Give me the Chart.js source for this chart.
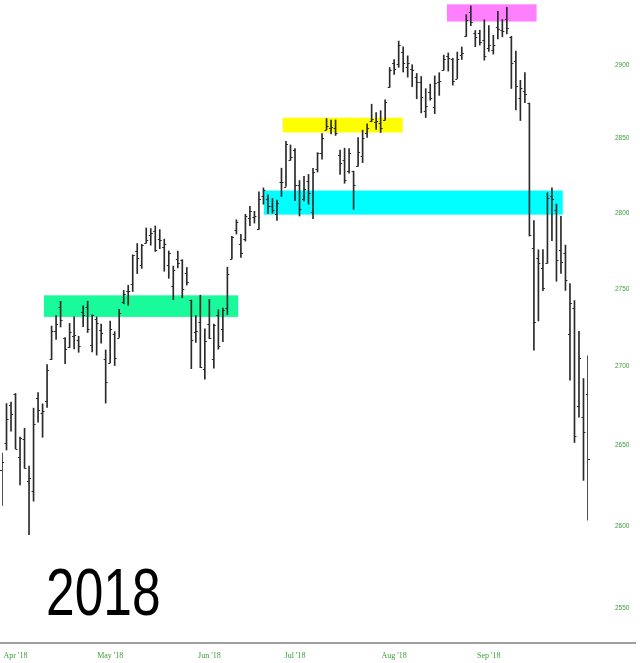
<!DOCTYPE html>
<html>
<head>
<meta charset="utf-8">
<script src="https://cdn.jsdelivr.net/npm/chart.js@4/dist/chart.umd.min.js"></script>
<style>
  html, body { margin: 0; padding: 0; background: #ffffff; }
  #wrap { position: relative; width: 640px; height: 663px; }
  #year {
    position: absolute; left: 46px; top: 559px;
    font-family: "Liberation Sans", Arial, sans-serif; font-size: 66px; line-height: 66px;
    color: #000; transform: scaleX(0.78); transform-origin: 0 0; white-space: nowrap;
  }
</style>
</head>
<body>
<div id="wrap">
  <canvas id="c" width="640" height="663"></canvas>
  <div id="year">2018</div>
</div>
<script>
// ---- data (daily OHLC, 25 Apr 2018 – 29 Oct 2018) ----
const dates = [
 '2018-04-25','2018-04-26','2018-04-27','2018-04-30',
 '2018-05-01','2018-05-02','2018-05-03','2018-05-04','2018-05-07','2018-05-08','2018-05-09','2018-05-10','2018-05-11',
 '2018-05-14','2018-05-15','2018-05-16','2018-05-17','2018-05-18','2018-05-21','2018-05-22','2018-05-23','2018-05-24',
 '2018-05-25','2018-05-29','2018-05-30','2018-05-31',
 '2018-06-01','2018-06-04','2018-06-05','2018-06-06','2018-06-07','2018-06-08','2018-06-11','2018-06-12','2018-06-13',
 '2018-06-14','2018-06-15','2018-06-18','2018-06-19','2018-06-20','2018-06-21','2018-06-22','2018-06-25','2018-06-26',
 '2018-06-27','2018-06-28','2018-06-29',
 '2018-07-02','2018-07-03','2018-07-05','2018-07-06','2018-07-09','2018-07-10','2018-07-11','2018-07-12','2018-07-13',
 '2018-07-16','2018-07-17','2018-07-18','2018-07-19','2018-07-20','2018-07-23','2018-07-24','2018-07-25','2018-07-26',
 '2018-07-27','2018-07-30','2018-07-31',
 '2018-08-01','2018-08-02','2018-08-03','2018-08-06','2018-08-07','2018-08-08','2018-08-09','2018-08-10','2018-08-13',
 '2018-08-14','2018-08-15','2018-08-16','2018-08-17','2018-08-20','2018-08-21','2018-08-22','2018-08-23','2018-08-24',
 '2018-08-27','2018-08-28','2018-08-29','2018-08-30','2018-08-31',
 '2018-09-04','2018-09-05','2018-09-06','2018-09-07','2018-09-10','2018-09-11','2018-09-12','2018-09-13','2018-09-14',
 '2018-09-17','2018-09-18','2018-09-19','2018-09-20','2018-09-21','2018-09-24','2018-09-25','2018-09-26','2018-09-27',
 '2018-09-28',
 '2018-10-01','2018-10-02','2018-10-03','2018-10-04','2018-10-05','2018-10-08','2018-10-09','2018-10-10','2018-10-11',
 '2018-10-12','2018-10-15','2018-10-16','2018-10-17','2018-10-18','2018-10-19','2018-10-22','2018-10-23','2018-10-24',
 '2018-10-25','2018-10-26','2018-10-29'
];
const opens = [
 2634.9,2651.7,2675.5,2682.5,
 2643.0,2654.2,2628.1,2621.5,2680.3,2670.3,2678.1,2705.0,2722.7,
 2738.5,2718.6,2712.6,2719.7,2717.4,2735.4,2738.3,2714.0,2730.9,
 2723.6,2705.1,2702.4,2721.0,
 2718.7,2741.7,2748.5,2753.3,2774.8,2765.8,2780.2,2785.6,2787.9,
 2783.2,2777.8,2765.8,2752.0,2769.7,2769.3,2760.8,2742.9,2722.1,
 2728.5,2698.7,2727.1,
 2705.0,2733.3,2724.2,2737.7,2769.8,2788.6,2779.8,2783.1,2796.9,
 2797.4,2789.3,2811.4,2809.4,2804.6,2799.2,2820.7,2817.7,2835.5,
 2842.4,2819.0,2809.7,
 2821.2,2800.5,2829.6,2840.3,2855.9,2856.8,2857.2,2838.9,2835.5,
 2827.9,2828.0,2831.4,2838.3,2853.9,2861.5,2861.0,2860.3,2862.4,
 2884.7,2901.5,2900.6,2908.9,2898.4,
 2897.0,2891.6,2888.6,2868.3,2881.4,2871.6,2888.3,2896.9,2906.4,
 2903.8,2890.7,2906.6,2919.7,2936.8,2921.8,2921.8,2917.0,2911.7,
 2910.0,
 2926.3,2923.8,2931.7,2919.4,2902.5,2877.5,2882.5,2873.9,2776.9,
 2770.5,2763.8,2767.1,2811.7,2802.0,2775.7,2773.9,2721.0,2737.9,
 2674.9,2667.9,2682.7
];
const highs = [
 2645.3,2676.5,2677.4,2682.9,
 2655.3,2660.9,2637.1,2673.6,2683.4,2676.3,2701.3,2726.1,2732.9,
 2742.1,2718.6,2727.8,2732.0,2719.5,2739.2,2742.2,2733.3,2732.0,
 2727.4,2710.7,2729.3,2722.5,
 2736.9,2749.2,2752.6,2772.4,2779.9,2779.4,2790.2,2789.8,2791.5,
 2789.1,2782.8,2775.0,2765.1,2774.9,2769.3,2764.2,2742.9,2732.9,
 2746.1,2724.3,2743.3,
 2727.3,2736.6,2737.8,2764.4,2784.7,2795.6,2785.9,2799.2,2804.5,
 2801.2,2814.2,2816.8,2812.1,2809.7,2808.6,2830.0,2848.0,2845.6,
 2843.2,2821.7,2824.5,
 2825.8,2829.9,2840.4,2853.3,2863.4,2862.4,2862.5,2842.2,2843.4,
 2843.1,2828.0,2850.5,2855.6,2859.8,2873.2,2867.5,2868.8,2876.2,
 2898.3,2903.8,2916.5,2912.5,2906.3,
 2900.2,2894.2,2892.1,2883.8,2886.9,2892.5,2894.7,2906.8,2908.3,
 2904.7,2908.9,2912.4,2934.8,2940.9,2923.8,2924.0,2931.2,2927.2,
 2920.5,
 2937.1,2931.4,2939.9,2919.8,2909.6,2889.5,2894.8,2874.0,2795.1,
 2775.8,2776.0,2813.5,2816.9,2806.0,2797.8,2778.9,2753.6,2742.6,
 2722.7,2692.4,2706.9
];
const lows = [
 2612.7,2647.2,2659.0,2648.0,
 2625.4,2635.8,2594.6,2615.3,2664.7,2655.2,2674.1,2704.5,2717.5,
 2725.5,2701.9,2712.2,2711.4,2709.2,2725.7,2721.9,2709.5,2707.4,
 2715.0,2676.8,2702.4,2700.7,
 2718.7,2740.5,2739.5,2748.5,2760.2,2763.6,2780.2,2778.8,2774.7,
 2776.5,2761.7,2757.1,2743.2,2763.9,2744.4,2752.7,2698.7,2715.6,
 2699.4,2692.0,2718.0,
 2699.0,2711.2,2716.0,2733.5,2769.8,2786.2,2770.8,2781.5,2791.7,
 2793.4,2789.2,2805.9,2799.8,2800.0,2795.1,2811.1,2817.7,2835.3,
 2808.3,2798.1,2808.1,
 2805.9,2796.3,2827.4,2836.0,2855.9,2853.1,2852.0,2825.8,2819.9,
 2826.6,2802.5,2831.4,2833.7,2850.6,2861.3,2856.1,2854.0,2862.4,
 2884.7,2893.5,2898.4,2895.2,2891.7,
 2885.1,2876.9,2867.3,2864.1,2875.9,2866.8,2879.2,2896.4,2895.8,
 2886.2,2890.7,2903.8,2919.7,2927.1,2912.6,2913.7,2903.3,2909.3,
 2907.5,
 2917.9,2919.4,2921.4,2883.9,2869.3,2862.1,2874.3,2784.9,2710.5,
 2729.4,2749.0,2766.9,2781.8,2755.2,2760.3,2749.2,2691.4,2651.9,
 2667.8,2628.2,2603.5
];
const closes = [
 2639.4,2666.9,2669.9,2648.1,
 2654.8,2635.7,2629.7,2663.4,2672.6,2671.9,2697.8,2723.1,2727.7,
 2730.1,2711.5,2722.5,2720.1,2713.0,2733.0,2724.4,2733.3,2727.8,
 2721.3,2689.9,2724.0,2705.3,
 2734.6,2746.9,2748.8,2772.4,2770.4,2779.0,2782.0,2786.9,2775.6,
 2782.5,2779.7,2773.8,2762.6,2767.3,2749.8,2754.9,2717.1,2723.1,
 2699.6,2716.3,2718.4,
 2726.7,2713.2,2736.6,2759.8,2784.2,2793.8,2774.0,2798.3,2801.3,
 2798.4,2809.6,2815.6,2804.5,2801.8,2807.0,2820.4,2846.1,2837.4,
 2818.8,2802.6,2816.3,
 2813.4,2827.2,2840.4,2850.4,2858.5,2857.7,2853.6,2833.3,2821.9,
 2840.0,2818.4,2840.7,2850.1,2857.1,2863.0,2861.8,2857.0,2874.7,
 2896.7,2897.5,2914.0,2901.1,2901.5,
 2896.7,2888.6,2878.1,2871.7,2877.1,2887.9,2888.9,2904.2,2905.0,
 2888.8,2904.3,2908.0,2930.8,2929.7,2919.4,2915.6,2906.0,2914.0,
 2914.0,
 2924.6,2923.4,2925.5,2901.6,2885.6,2884.4,2880.3,2785.7,2728.4,
 2767.1,2750.8,2809.9,2809.2,2768.8,2767.8,2755.9,2740.7,2656.1,
 2705.6,2658.7,2641.3
];
const yTicks = [2550, 2600, 2650, 2700, 2750, 2800, 2850, 2900];
const monthTickDates = ['2018-04-30','2018-05-30','2018-06-29','2018-07-27','2018-08-28','2018-09-27'];
const monthLabels = ["Apr '18", "May '18", "Jun '18", "Jul '18", "Aug '18", "Sep '18"];
// highlighted price zones (bar-index span, price span)
const zoneFrom = [9.3, 58.1, 62.3, 98.7];
const zoneTo   = [52.4, 124.4, 88.9, 118.6];
const zoneLow  = [2732, 2799, 2854, 2930];
const zoneHigh = [2746, 2815, 2864, 2942];
const zoneColors = ['#19fa9b', '#00ffff', '#ffff00', '#ff80ff'];

const monthTickIdx = monthTickDates.map(d => dates.indexOf(d));
const barColor = '#2a2a2a';

const zonePlugin = {
  id: 'zones',
  beforeDatasetsDraw(chart) {
    const {ctx, scales: {x, y}} = chart;
    ctx.save();
    for (let k = 0; k < zoneFrom.length; k++) {
      const x0 = x.getPixelForValue(zoneFrom[k]);
      const x1 = x.getPixelForValue(zoneTo[k]);
      const y0 = y.getPixelForValue(zoneHigh[k]);
      const y1 = y.getPixelForValue(zoneLow[k]);
      ctx.fillStyle = zoneColors[k];
      ctx.fillRect(x0, y0, x1 - x0, y1 - y0);
    }
    ctx.restore();
  }
};

const tickPlugin = {
  id: 'ocTicks',
  afterDatasetsDraw(chart) {
    const {ctx, scales: {x, y}} = chart;
    ctx.save();
    ctx.strokeStyle = barColor;
    ctx.lineWidth = 1;
    for (let i = 0; i < dates.length; i++) {
      const px = x.getPixelForValue(i);
      const yo = Math.round(y.getPixelForValue(opens[i])) + 0.5;
      const yc = Math.round(y.getPixelForValue(closes[i])) + 0.5;
      ctx.beginPath();
      ctx.moveTo(px - 2, yo); ctx.lineTo(px, yo);
      ctx.moveTo(px, yc); ctx.lineTo(px + 2, yc);
      ctx.stroke();
    }
    ctx.restore();
  },
  afterDraw(chart) {
    const {ctx, chartArea} = chart;
    ctx.save();
    ctx.strokeStyle = '#a0a0a0';
    ctx.lineWidth = 2;
    ctx.beginPath();
    ctx.moveTo(0, chartArea.bottom);
    ctx.lineTo(636, chartArea.bottom);
    ctx.stroke();
    ctx.restore();
  }
};

new Chart(document.getElementById('c'), {
  type: 'bar',
  data: {
    labels: dates,
    datasets: [{
      data: dates.map((d, i) => [lows[i], highs[i]]),
      backgroundColor: barColor,
      borderWidth: 0,
      barThickness: 1
    }]
  },
  options: {
    responsive: false,
    animation: false,
    layout: { padding: { left: 2, top: 0, right: 0, bottom: 0 } },
    plugins: { legend: { display: false }, tooltip: { enabled: false } },
    scales: {
      x: {
        type: 'category',
        offset: false,
        grid: { display: false, drawTicks: false },
        border: { display: false },
        afterBuildTicks(scale) { scale.ticks = monthTickIdx.map(v => ({ value: v })); },
        afterFit(scale) { scale.height = 20; scale.paddingLeft = 0; scale.paddingRight = 0; },
        ticks: {
          autoSkip: false, maxRotation: 0, minRotation: 0, padding: 8,
          color: '#3a9d3a',
          font: { family: 'Liberation Serif', size: 8 },
          callback: (v) => monthLabels[monthTickIdx.indexOf(v)]
        }
      },
      y: {
        type: 'logarithmic',
        position: 'right',
        min: 2528.9,
        max: 2945.0,
        grid: { display: false, drawTicks: false },
        border: { display: false },
        afterBuildTicks(scale) { scale.ticks = yTicks.map(v => ({ value: v })); },
        afterFit(scale) { scale.width = 52; scale.paddingTop = 0; scale.paddingBottom = 0; },
        ticks: {
          padding: 27,
          color: '#3a9d3a',
          font: { family: 'Liberation Sans', size: 6.5 },
          callback: (v) => String(v)
        }
      }
    }
  },
  plugins: [zonePlugin, tickPlugin]
});
</script>
</body>
</html>
